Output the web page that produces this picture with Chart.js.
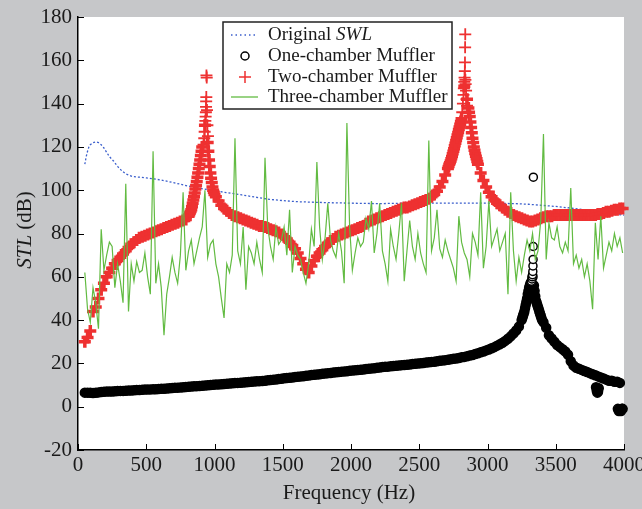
<!DOCTYPE html>
<html>
<head>
<meta charset="utf-8">
<script src="https://cdn.jsdelivr.net/npm/chart.js@4.4.1/dist/chart.umd.min.js"></script>
<style>
  html, body { margin: 0; padding: 0; background: #c6c7c9; }
  canvas { display: block; }
</style>
</head>
<body>
<canvas id="chart" width="642" height="509"></canvas>
<script>
// frequency grid (Hz) shared by the three muffler curves
const freq = [
  50, 70, 90, 110, 130, 150, 170, 190, 210, 230,
  250, 270, 290, 310, 330, 350, 370, 390, 410, 430,
  450, 470, 490, 510, 530, 550, 570, 590, 610, 630,
  650, 670, 690, 710, 730, 750, 770, 790, 810, 830,
  850, 870, 890, 910, 930, 950, 970, 990, 1010, 1030,
  1050, 1070, 1090, 1110, 1130, 1150, 1170, 1190, 1210, 1230,
  1250, 1270, 1290, 1310, 1330, 1350, 1370, 1390, 1410, 1430,
  1450, 1470, 1490, 1510, 1530, 1550, 1570, 1590, 1610, 1630,
  1650, 1670, 1690, 1710, 1730, 1750, 1770, 1790, 1810, 1830,
  1850, 1870, 1890, 1910, 1930, 1950, 1970, 1990, 2010, 2030,
  2050, 2070, 2090, 2110, 2130, 2150, 2170, 2190, 2210, 2230,
  2250, 2270, 2290, 2310, 2330, 2350, 2370, 2390, 2410, 2430,
  2450, 2470, 2490, 2510, 2530, 2550, 2570, 2590, 2610, 2630,
  2650, 2670, 2690, 2710, 2730, 2750, 2770, 2790, 2810, 2830,
  2850, 2870, 2890, 2910, 2930, 2950, 2970, 2990, 3010, 3030,
  3050, 3070, 3090, 3110, 3130, 3150, 3170, 3190, 3210, 3230,
  3250, 3270, 3290, 3310, 3330, 3350, 3370, 3390, 3410, 3430,
  3450, 3470, 3490, 3510, 3530, 3550, 3570, 3590, 3610, 3630,
  3650, 3670, 3690, 3710, 3730, 3750, 3770, 3790, 3810, 3830,
  3850, 3870, 3890, 3910, 3930, 3950, 3970, 3990
];

// one-chamber muffler STL (dB)
const oneChamber = [
  6.5, 6.5, 6.4, 6.3, 6.4, 6.6, 6.8, 6.9, 7.0, 7.0,
  7.0, 7.1, 7.2, 7.3, 7.3, 7.4, 7.5, 7.5, 7.6, 7.7,
  7.7, 7.8, 7.9, 7.9, 8.0, 8.1, 8.1, 8.2, 8.3, 8.3,
  8.4, 8.5, 8.6, 8.7, 8.8, 8.9, 9.0, 9.1, 9.2, 9.3,
  9.4, 9.5, 9.6, 9.7, 9.8, 9.9, 10.0, 10.1, 10.2, 10.3,
  10.4, 10.5, 10.6, 10.7, 10.8, 10.9, 11.0, 11.1, 11.2, 11.3,
  11.4, 11.5, 11.6, 11.7, 11.8, 11.9, 12.0, 12.2, 12.3, 12.5,
  12.6, 12.8, 12.9, 13.1, 13.2, 13.4, 13.5, 13.7, 13.8, 14.0,
  14.1, 14.3, 14.4, 14.6, 14.7, 14.9, 15.0, 15.2, 15.3, 15.5,
  15.6, 15.8, 15.9, 16.0, 16.2, 16.3, 16.4, 16.6, 16.7, 16.8,
  16.9, 17.1, 17.2, 17.4, 17.5, 17.7, 17.8, 18.0, 18.1, 18.3,
  18.4, 18.5, 18.7, 18.8, 18.9, 19.0, 19.2, 19.3, 19.4, 19.5,
  19.7, 19.8, 19.9, 20.1, 20.2, 20.4, 20.5, 20.7, 20.8, 21.0,
  21.2, 21.3, 21.5, 21.7, 21.9, 22.1, 22.3, 22.5, 22.8, 23.0,
  23.3, 23.6, 23.9, 24.3, 24.7, 25.1, 25.5, 26.0, 26.4, 27.0,
  27.5, 28.2, 28.8, 29.5, 30.4, 31.4, 32.5, 33.8, 35.2, 37.0,
  40, 44, 50, 56, 60, 51, 46, 42, 39, 36.5,
  33, 31.5, 30, 28.5, 27.5, 26.5, 25.5, 24, 21, 19,
  18, 17.5, 17, 16.5, 16, 15.5, 15, 14.5, 14, 13.5,
  13, 12.5, 12, 12, 11.5, 11.5, 11, -1
];
// extra one-chamber samples on the resonance flanks
const oneFlankFreq = [3255, 3260, 3265, 3275, 3280, 3285, 3295, 3300, 3305, 3315, 3320,
  3340, 3345, 3355, 3360, 3365, 3375, 3380, 3385, 3395, 3400];
const oneFlankSTL = [41, 42, 43, 45.5, 47, 48.5, 52, 53.5, 55, 57, 57.5,
  56, 53.5, 49, 48, 47, 45, 44, 43, 41, 40];
// extra one-chamber samples: the dips near the top of the range
const oneDipFreq = [3795, 3800, 3805, 3810, 3815, 3955, 3962, 3970, 3978, 3985];
const oneDipSTL = [9, 7.5, 6.5, 7, 8.5, -1, -2, -1.5, -2, -1];
// one-chamber samples at the resonance top (drawn as open rings)
const onePeakFreq = [3322, 3326, 3328, 3330, 3332, 3333, 3334, 3335, 3336];
const onePeakSTL = [58, 59, 60, 61, 62.5, 65, 68, 74, 106];

// two-chamber muffler STL (dB)
const twoChamber = [
  30, 32, 35, 44, 46, 50, 54, 57, 60, 62,
  64, 66, 67.5, 69, 70.5, 72, 73.5, 75, 76, 77,
  78, 78.5, 79, 79.5, 80, 80.5, 81, 81.5, 82, 82.5,
  83, 83.5, 84, 84.5, 85, 85.5, 86, 86.5, 88, 91,
  97, 104, 112, 120, 130, 122, 108, 100, 97, 95,
  93, 91.5, 90.5, 89.5, 88.5, 88, 87.5, 87, 86.5, 86,
  85.5, 85, 84.5, 84, 83.5, 83.5, 83, 82.5, 82, 81.5,
  81, 80.5, 79.5, 78.5, 77.5, 76, 74.5, 73, 71, 68.5,
  66, 63.5, 62, 65, 67.5, 69.5, 71, 72.5, 74, 75.5,
  76.5, 77.5, 78.5, 79, 79.5, 80, 80.5, 81, 81.5, 82,
  82.5, 83, 83.5, 84.5, 85.5, 86, 86.5, 87, 87.5, 88,
  88.5, 89, 89.5, 90, 90.5, 91, 91.5, 92, 92, 92.5,
  93, 93.5, 94, 94.5, 95, 95.5, 96, 97, 98, 99.5,
  101.5, 104, 107, 110, 113.5, 118, 123, 128, 133, 148,
  142, 134, 124, 117, 112, 108, 104.5, 101.5, 99, 97,
  95.5, 94, 93, 92, 91, 90, 89.5, 88.5, 88, 87.5,
  87, 86.5, 86, 85.5, 85.5, 86, 86.5, 87, 87.5, 88,
  88, 88, 88.5, 88.5, 88.5, 88.5, 88.5, 88.5, 88.5, 88.5,
  88.5, 88.5, 88.5, 88.5, 88.5, 88.5, 88.5, 88.5, 89, 89,
  89.5, 90, 90, 90.5, 91, 91, 91.5, 91.5
];
// extra two-chamber samples on the steep flanks of both resonances
const twoFlankFreq = [815, 820, 825, 835, 840, 845, 855, 860, 865, 875, 880, 885, 895, 900, 905,
  955, 960, 965, 975, 980, 985, 995, 1000,
  2715, 2720, 2725, 2735, 2740, 2745, 2755, 2760, 2765, 2775, 2780, 2785, 2795, 2800, 2805,
  2860, 2865, 2875, 2880, 2885, 2895, 2900, 2905, 2915, 2920, 2925];
const twoFlankSTL = [88.7, 89.5, 90.2, 92.4, 94, 95.5, 98.7, 100.5, 102.2, 106, 108, 110, 114, 116, 118,
  118, 114, 111, 105.5, 103.5, 101.5, 99, 98,
  111, 112, 112.7, 114.5, 115.6, 116.8, 119.2, 120.5, 121.7, 124.2, 125.5, 126.7, 129.2, 130.5, 131.7,
  138, 136, 131.5, 129, 126.5, 122, 120, 118.5, 115.7, 114.5, 113.2];
// extra two-chamber samples at the top of the two resonance peaks
const twoPeakFreq = [915, 920, 925, 928, 931, 933, 935, 937, 938, 939, 940, 941, 943, 945, 948, 952,
  2815, 2820, 2824, 2827, 2830, 2832, 2834, 2835, 2836, 2837, 2838, 2840, 2843, 2846, 2850, 2855];
const twoPeakSTL = [118, 121, 124, 127, 130, 132, 134, 136, 138.5, 141, 143, 153, 152, 137, 130, 125,
  136, 140, 144, 147, 150, 152, 155, 159, 166, 172, 151, 149, 146, 142, 139, 136];

// three-chamber muffler STL (dB)
const threeChamber = [
  62, 45, 39, 55, 48, 36, 82, 63, 70, 76,
  74, 55, 66, 58, 48, 103, 44, 66, 58, 67,
  62, 63, 71, 60, 52, 118, 57, 66, 55, 33,
  52, 60, 69, 62, 57, 70, 99, 63, 72, 77,
  66, 72, 78, 83, 100, 69, 75, 77, 66, 60,
  50, 41, 66, 62, 70, 124, 72, 66, 83, 54,
  74, 71, 66, 76, 68, 62, 115, 83, 74, 68,
  83, 75, 77, 83, 70, 91, 62, 74, 70, 68,
  62, 57, 66, 82, 74, 113, 83, 68, 78, 94,
  77, 72, 69, 80, 72, 57, 131, 83, 63, 71,
  78, 74, 76, 87, 82, 95, 71, 80, 94, 72,
  66, 58, 82, 74, 68, 80, 94, 58, 72, 86,
  74, 68, 80, 71, 66, 62, 123, 72, 78, 91,
  73, 69, 77, 72, 68, 64, 58, 88, 76, 71,
  68, 60, 80, 76, 70, 99, 64, 74, 95, 74,
  78, 82, 72, 76, 80, 52, 99, 72, 58, 69,
  62, 70, 77, 72, 80, 68, 72, 86, 126, 68,
  85, 78, 77, 83, 74, 71, 76, 72, 101, 66,
  70, 64, 68, 60, 66, 58, 45, 85, 68, 88,
  64, 70, 76, 72, 80, 74, 78, 71
];

// original sound power level
const swlFreq = [50, 60, 70, 80, 90, 110, 130, 150, 170, 190, 210, 230, 260, 290, 320, 350, 400, 450, 500,
  600, 700, 800, 900, 1000, 1100, 1200, 1300, 1400, 1500, 1600, 1800, 2000, 2200, 2400, 2600,
  2800, 3000, 3200, 3300, 3400, 3500, 3600, 3700, 3800, 3900, 4000];
const swlLevel = [112, 115.5, 118, 120, 121, 122, 122.3, 122, 121, 119.5, 117.5, 115.5, 113.5, 111, 109, 107.5, 106.3, 106, 105.7,
  104.8, 103.5, 102, 100.8, 99.7, 98.8, 97.8, 96.8, 95.8, 95.2, 94.7, 94.3, 94, 93.8, 94, 94,
  94, 94, 93.8, 93.5, 93, 92.5, 91.8, 91, 90, 89.2, 88.5];

const xTicks = [0, 500, 1000, 1500, 2000, 2500, 3000, 3500, 4000];
const yTicks = [-20, 0, 20, 40, 60, 80, 100, 120, 140, 160, 180];

const FONT = '"Liberation Serif", "Times New Roman", serif';
const INK = '#1a1a1a';
const BLUE = '#3b5fcc';
const RED = '#ee3131';
const GREEN = '#62bb42';

function toPoints(xs, ys) {
  return xs.map((x, i) => ({ x: x, y: ys[i] }));
}

const frame = {
  id: 'frame',
  beforeDraw(chart) {
    const { ctx, chartArea: a } = chart;
    ctx.save();
    ctx.fillStyle = '#c6c7c9';
    ctx.fillRect(0, 0, chart.width, chart.height);
    ctx.fillStyle = '#ffffff';
    ctx.fillRect(a.left, a.top, a.right - a.left, a.bottom - a.top);
    ctx.restore();
  },
  afterDraw(chart) {
    const { ctx, chartArea: a, scales } = chart;
    ctx.save();

    // ticks pointing into the plot
    ctx.strokeStyle = '#000';
    ctx.lineWidth = 1;
    ctx.beginPath();
    xTicks.forEach(v => {
      const px = Math.round(scales.x.getPixelForValue(v)) + 0.5;
      ctx.moveTo(px, a.bottom);
      ctx.lineTo(px, a.bottom - 6);
    });
    yTicks.forEach(v => {
      const py = Math.round(scales.y.getPixelForValue(v)) + 0.5;
      ctx.moveTo(a.left, py);
      ctx.lineTo(a.left + 6, py);
    });
    ctx.stroke();

    // axis titles
    ctx.fillStyle = INK;
    ctx.textBaseline = 'middle';
    ctx.textAlign = 'center';
    ctx.font = '21px ' + FONT;
    ctx.fillText('Frequency (Hz)', 349, 493);

    ctx.save();
    ctx.translate(25, 230);
    ctx.rotate(-Math.PI / 2);
    ctx.textAlign = 'left';
    ctx.font = 'italic 21px ' + FONT;
    const w1 = ctx.measureText('STL').width;
    ctx.font = '21px ' + FONT;
    const w2 = ctx.measureText(' (dB)').width;
    const sx = -(w1 + w2) / 2;
    ctx.font = 'italic 21px ' + FONT;
    ctx.fillText('STL', sx, 0);
    ctx.font = '21px ' + FONT;
    ctx.fillText(' (dB)', sx + w1, 0);
    ctx.restore();

    // legend
    const L = 223, T = 22, W = 229, H = 87;
    ctx.fillStyle = '#ffffff';
    ctx.fillRect(L, T, W, H);
    ctx.strokeStyle = '#222';
    ctx.lineWidth = 1.5;
    ctx.strokeRect(L, T, W, H);

    const rows = [35, 56, 77, 97];
    const sx0 = 231, sx1 = 258, sc = 245, tx = 268;

    ctx.strokeStyle = BLUE;
    ctx.lineWidth = 1.3;
    ctx.setLineDash([1.5, 3]);
    ctx.beginPath(); ctx.moveTo(sx0, rows[0]); ctx.lineTo(sx1, rows[0]); ctx.stroke();
    ctx.setLineDash([]);

    ctx.strokeStyle = '#000';
    ctx.lineWidth = 1.5;
    ctx.beginPath(); ctx.arc(sc, rows[1], 4, 0, Math.PI * 2); ctx.stroke();

    ctx.strokeStyle = RED;
    ctx.lineWidth = 1.5;
    ctx.beginPath();
    ctx.moveTo(sc - 6, rows[2]); ctx.lineTo(sc + 6, rows[2]);
    ctx.moveTo(sc, rows[2] - 6); ctx.lineTo(sc, rows[2] + 6);
    ctx.stroke();

    ctx.strokeStyle = GREEN;
    ctx.lineWidth = 1.3;
    ctx.beginPath(); ctx.moveTo(sx0, rows[3]); ctx.lineTo(sx1, rows[3]); ctx.stroke();

    ctx.fillStyle = INK;
    ctx.textAlign = 'left';
    ctx.font = '19px ' + FONT;
    ctx.fillText('Original ', tx, rows[0]);
    const wo = ctx.measureText('Original ').width;
    ctx.font = 'italic 19px ' + FONT;
    ctx.fillText('SWL', tx + wo, rows[0]);
    ctx.font = '19px ' + FONT;
    ctx.fillText('One-chamber Muffler', tx, rows[1]);
    ctx.fillText('Two-chamber Muffler', tx, rows[2]);
    ctx.fillText('Three-chamber Muffler', tx, rows[3]);

    ctx.restore();
  }
};

new Chart(document.getElementById('chart'), {
  type: 'scatter',
  data: {
    datasets: [
      {
        label: 'Original SWL',
        data: toPoints(swlFreq, swlLevel),
        showLine: true,
        borderColor: BLUE,
        borderWidth: 1.3,
        borderDash: [2, 2],
        pointRadius: 0,
        order: 5
      },
      {
        // dense one-chamber band
        label: 'One-chamber Muffler',
        data: toPoints(freq, oneChamber)
          .concat(toPoints(oneFlankFreq, oneFlankSTL))
          .concat(toPoints(oneDipFreq, oneDipSTL)),
        pointStyle: 'circle',
        pointRadius: 4.5,
        pointBorderWidth: 1.5,
        borderColor: '#000',
        backgroundColor: '#000',
        clip: false,
        order: 4
      },
      {
        label: 'One-chamber Muffler (peak)',
        data: toPoints(onePeakFreq, onePeakSTL),
        pointStyle: 'circle',
        pointRadius: 4,
        pointBorderWidth: 1.5,
        borderColor: '#000',
        backgroundColor: '#ffffff',
        clip: false,
        order: 3
      },
      {
        // dense two-chamber band
        label: 'Two-chamber Muffler',
        data: toPoints(freq, twoChamber).concat(toPoints(twoFlankFreq, twoFlankSTL)),
        pointStyle: 'cross',
        pointRadius: 6,
        pointBorderWidth: 3.5,
        borderColor: RED,
        backgroundColor: RED,
        clip: false,
        order: 2
      },
      {
        label: 'Two-chamber Muffler (peaks)',
        data: toPoints(twoPeakFreq, twoPeakSTL),
        pointStyle: 'cross',
        pointRadius: 6,
        pointBorderWidth: 1.8,
        borderColor: RED,
        backgroundColor: RED,
        clip: false,
        order: 1
      },
      {
        label: 'Three-chamber Muffler',
        data: toPoints(freq, threeChamber),
        showLine: true,
        borderColor: GREEN,
        borderWidth: 1.2,
        pointRadius: 0,
        order: 0
      }
    ]
  },
  options: {
    responsive: false,
    animation: false,
    layout: { padding: { left: 0, top: 17, right: 18, bottom: 0 } },
    plugins: {
      legend: { display: false },
      tooltip: { enabled: false }
    },
    scales: {
      x: {
        type: 'linear',
        min: 0,
        max: 4000,
        afterBuildTicks: s => { s.ticks = xTicks.map(v => ({ value: v })); },
        afterFit: s => { s.height = 59; s.paddingLeft = 0; s.paddingRight = 0; },
        grid: { display: true, drawOnChartArea: false, drawTicks: false },
        border: { display: true, color: '#000', width: 1.5 },
        ticks: { color: INK, font: { family: FONT, size: 21 }, padding: 3, maxRotation: 0, callback: v => String(v) }
      },
      y: {
        type: 'linear',
        min: -20,
        max: 180,
        afterBuildTicks: s => { s.ticks = yTicks.map(v => ({ value: v })); },
        afterFit: s => { s.width = 78; s.paddingTop = 0; s.paddingBottom = 0; },
        grid: { display: true, drawOnChartArea: false, drawTicks: false },
        border: { display: true, color: '#000', width: 1.5 },
        ticks: { color: INK, font: { family: FONT, size: 21 }, padding: 6, callback: v => String(v) }
      }
    }
  },
  plugins: [frame]
});
</script>
</body>
</html>
